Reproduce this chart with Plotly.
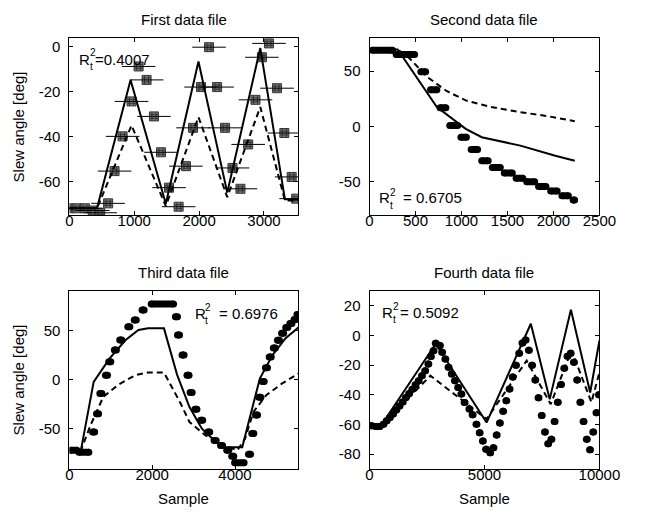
import plotly.graph_objects as go

# ---- First data file ----
model1_x = [0, 425, 943, 1486, 1990, 2434, 2943, 3323, 3530]
model1_y = [-72, -72, -14.7, -70, -6.5, -65, -0.5, -68, -68]
lin1_x = [0, 425, 958, 1486, 1990, 2434, 2943, 3323, 3530]
lin1_y = [-72, -72, -35, -71, -31.3, -67, -26.8, -68.5, -68.5]
meas1_x = [0, 120, 240, 360, 474, 597, 696, 820, 958, 1067, 1190, 1304, 1412, 1536,
           1684, 1797, 1906, 2030, 2153, 2277, 2400, 2514, 2637, 2756, 2869, 2968,
           3077, 3200, 3314, 3427, 3496]
meas1_y = [-72, -72, -72, -73, -74, -69.8, -55.4, -39.9, -24.3, -8.7, -14.7, -31, -47,
           -62.8, -71.3, -53.2, -36.1, -17.9, -0.1, -17.9, -36.1, -54, -63.3, -43.5,
           -23.6, -4.6, 1.6, -18.4, -38.4, -58, -67.7]

# ---- Second data file ----
model2_x = [0, 306, 732, 1046, 1220, 1640, 2020, 2232]
model2_y = [69.7, 69.7, 17.5, -2.1, -9.7, -17.3, -26.4, -31]
lin2_x = [0, 306, 418, 628, 837, 1046, 1325, 1639, 1953, 2232]
lin2_y = [69.7, 69.7, 63, 44.8, 32.1, 23.6, 17.6, 13, 9.1, 4.8]
hold2_from = [30, 290, 558, 663, 767, 872, 994, 1105, 1220, 1335, 1465, 1594, 1709, 1838, 1970, 2092, 2214]
hold2_to = [250, 490, 610, 732, 830, 959, 1053, 1175, 1290, 1422, 1552, 1667, 1796, 1918, 2040, 2162, 2230]
hold2_y = [69, 65, 49.4, 33.3, 17, 1, -9.7, -20.9, -30.9, -37, -42.1, -46.7, -50, -54.2, -58.2, -62.7, -66.4]

# ---- Third data file ----
model3_x = [0, 278, 586, 972, 1358, 1667, 1898, 2284, 2600, 2900, 3200, 3500, 3750, 4174,
            4600, 4907, 5216, 5530]
model3_y = [-72, -72, -2.4, 21.4, 40.1, 50.3, 52, 52, 5, -28, -50, -62, -69, -69,
            1, 24.8, 41.8, 53]
lin3_x = [0, 278, 509, 818, 1165, 1590, 1898, 2284, 2669, 2901, 3287, 3750, 4058, 4244,
          4444, 4753, 5139, 5530]
lin3_y = [-72, -72, -46.6, -17.7, -5.8, 4.4, 7.1, 7.1, -22.9, -43.3, -56.8, -67, -72, -60,
          -33, -16, -4, 6]
hold3_from = [30, 230, 560, 655, 735, 870, 950, 1085, 1215, 1410, 1565, 1755, 1975, 2560,
              2610, 2720, 2840, 2915, 3030, 3170, 3340, 3495, 3650, 3800, 3920, 3990, 4325,
              4405, 4495, 4575, 4655, 4735, 4825, 4925, 5025, 5125, 5225, 5325, 5425, 5495]
hold3_to = [180, 470, 610, 705, 785, 920, 1000, 1135, 1265, 1460, 1615, 1805, 2516, 2610,
            2660, 2770, 2890, 2965, 3080, 3220, 3390, 3545, 3700, 3850, 3970, 4220, 4375,
            4455, 4545, 4625, 4705, 4785, 4875, 4975, 5075, 5175, 5275, 5375, 5475, 5545]
hold3_y = [-72, -74, -53.4, -34.7, -14.3, 4.4, 18, 29.9, 40.1, 53.7, 60.5, 70.7, 76.8, 63.9,
           45.2, 24.8, 4.4, -13.3, -30.3, -41.5, -53.5, -62, -67, -72, -78, -84.7, -76,
           -55, -36, -18, -2, 12, 23, 32, 40, 47, 53, 57, 61, 66]

# ---- Fourth data file ----
model4_x = [0, 488, 2880, 5091, 7015, 7838, 8759, 9596, 10000]
model4_y = [-61, -61, -5.6, -58.7, 7.9, -42.9, 17.4, -38.4, -3.4]
lin4_x = [0, 488, 2650, 5091, 6834, 7880, 8787, 9651, 10000]
lin4_y = [-61, -61, -27.1, -56.4, -16.9, -46.3, -10, -45, -24.8]
hold4_at = [70, 251, 418, 586, 725, 865, 1004, 1144, 1283, 1423, 1562, 1702, 1841, 1981,
            2120, 2260, 2399, 2538, 2650, 2762, 2859, 3041, 3138, 3278, 3417, 3557, 3696,
            3835, 3975, 4114, 4323, 4463, 4630, 4770, 4909, 5049, 5230, 5370, 5510, 5650,
            5790, 5930, 6070, 6210, 6350, 6490, 6630, 6770, 6910, 7050, 7190, 7330, 7470,
            7610, 7750, 7890, 8030, 8170, 8310, 8450, 8590, 8730, 8870, 9010, 9150, 9290,
            9430, 9570, 9710, 9850, 9960]
hold4_y = [-60.9, -61.4, -61.4, -59.8, -57.5, -55.3, -53, -50.3, -47.6, -44.9, -41.8,
           -39.1, -36.3, -33.2, -30.5, -27.1, -23.7, -19.2, -14.2, -10.2, -5.2, -6.8,
           -11.3, -15.8, -21.4, -26, -30.5, -35, -39.5, -45.1, -49.6, -53.5, -59.8, -65.5,
           -71.1, -76.7, -79, -75.6, -67, -59, -51, -44, -36, -28, -20, -12, -5, -3,
           -10, -20, -30, -42, -54, -65, -73, -70, -58, -45, -33, -22, -14, -12, -18,
           -30, -45, -58, -70, -77, -65, -52, -40]

r2_values = ['=0.4007', '= 0.6705', '= 0.6976', '= 0.5092']

BLACK = 'black'
FONT = 'Arial, Liberation Sans, sans-serif'
FS = 15
W, H = 657, 514


def hold_path(t0, t1, lvl):
    xs, ys = [], []
    for a, b, v in zip(t0, t1, lvl):
        xs += [a, b, None]
        ys += [v, v, None]
    return xs, ys


def px(x):
    return x / W


def py(y):
    return 1 - y / H


fig = go.Figure()


def add_lines(mx, my, lx, ly, n):
    xa, ya = ('x', 'y') if n == 1 else ('x%d' % n, 'y%d' % n)
    fig.add_trace(go.Scatter(x=mx, y=my, mode='lines', xaxis=xa, yaxis=ya,
                             line=dict(color=BLACK, width=2)))
    fig.add_trace(go.Scatter(x=lx, y=ly, mode='lines', xaxis=xa, yaxis=ya,
                             line=dict(color=BLACK, width=2, dash='6px,4px')))


def add_holds(xs, ys, n, w=7):
    fig.add_trace(go.Scatter(x=xs, y=ys, mode='lines+markers', xaxis='x%d' % n, yaxis='y%d' % n,
                             line=dict(color=BLACK, width=w),
                             marker=dict(color=BLACK, size=w), connectgaps=False))


# panel 1 markers: grey square, dark hash, horizontal bar
fig.add_trace(go.Scatter(x=meas1_x, y=meas1_y, mode='markers',
                         marker=dict(symbol='square', size=9, color='#7a7a7a',
                                     line=dict(width=1, color='#333333'))))
fig.add_trace(go.Scatter(x=meas1_x, y=meas1_y, mode='markers',
                         marker=dict(symbol='hash-open', size=8, color='#333333',
                                     line=dict(width=1, color='#333333'))))
fig.add_trace(go.Scatter(x=meas1_x, y=meas1_y, mode='markers',
                         marker=dict(symbol='line-ew', size=24, color=BLACK,
                                     line=dict(width=1, color=BLACK))))
add_lines(model1_x, model1_y, lin1_x, lin1_y, 1)

hx, hy = hold_path(hold2_from, hold2_to, hold2_y)
add_holds(hx, hy, 2)
add_lines(model2_x, model2_y, lin2_x, lin2_y, 2)

hx, hy = hold_path(hold3_from, hold3_to, hold3_y)
add_holds(hx, hy, 3)
add_lines(model3_x, model3_y, lin3_x, lin3_y, 3)

hx, hy = hold_path(hold4_at, [t + 40 for t in hold4_at], hold4_y)
add_holds(hx, hy, 4)
add_lines(model4_x, model4_y, lin4_x, lin4_y, 4)

axis_common = dict(showline=True, linecolor=BLACK, linewidth=1, mirror='ticks',
                   ticks='inside', ticklen=4, tickcolor=BLACK, showgrid=False,
                   zeroline=False, tickfont=dict(family=FONT, size=FS, color=BLACK))

panels = [
    # x px, y px, xrange, yrange, xticks, yticks
    ((68, 306), (38, 215), [0, 3530], [-75, 4], [0, 1000, 2000, 3000], [-60, -40, -20, 0]),
    ((380, 619), (38, 215), [0, 2500], [-80, 80], [0, 500, 1000, 1500, 2000, 2500], [-50, 0, 50]),
    ((68, 306), (291, 469), [0, 5530], [-91, 90], [0, 2000, 4000], [-50, 0, 50]),
    ((380, 619), (291, 469), [0, 10000], [-90, 30], [0, 5000, 10000], [-80, -60, -40, -20, 0, 20]),
]

layout_axes = {}
for i, (xp, yp, xr, yr, xt, yt) in enumerate(panels, start=1):
    sfx = '' if i == 1 else str(i)
    layout_axes['xaxis' + sfx] = dict(axis_common, domain=[px(xp[0]), px(xp[1])], range=xr,
                                      anchor='y' + sfx, tickvals=xt, ticktext=[str(v) for v in xt],
                                      ticklabelstandoff=-8)
    layout_axes['yaxis' + sfx] = dict(axis_common, domain=[py(yp[1]), py(yp[0])], range=yr,
                                      anchor='x' + sfx, tickvals=yt, ticktext=[str(v) for v in yt],
                                      ticklabelstandoff=5)

ann = []


def label(text, x, y, size=FS, xanchor='center', angle=0):
    ann.append(dict(text=text, x=px(x), y=py(y), xref='paper', yref='paper', showarrow=False,
                    xanchor=xanchor, yanchor='middle', textangle=angle, borderpad=0,
                    font=dict(family=FONT, size=size, color=BLACK)))


label('First data file', 187, 20)
label('Second data file', 499, 20)
label('Third data file', 187, 272)
label('Fourth data file', 499, 272)
for yc in (127, 380):
    label('Slew angle [deg]', 15, yc, angle=-90)
for xc in (187, 499):
    label('Sample', xc, 498)

# R_t^2 labels, sub- and superscript stacked as in the original
r_pos = [(77, 94, 64), (389, 414, 203), (197, 222, 318), (392, 411, 317)]
for val, (xr_, xv, base) in zip(r2_values, r_pos):
    label('R', xr_, base - 5, xanchor='left')
    label('2', xr_ + 11, base - 11, size=10, xanchor='left')
    label('t', xr_ + 11, base + 2, size=10, xanchor='left')
    label(val, xv, base - 5, xanchor='left')

fig.update_layout(width=W, height=H, margin=dict(l=0, r=0, t=0, b=0),
                  paper_bgcolor='white', plot_bgcolor='white', showlegend=False,
                  annotations=ann, **layout_axes)

fig.write_html("out.html", config={'displayModeBar': False},
               post_script="document.body.style.margin='0';")
